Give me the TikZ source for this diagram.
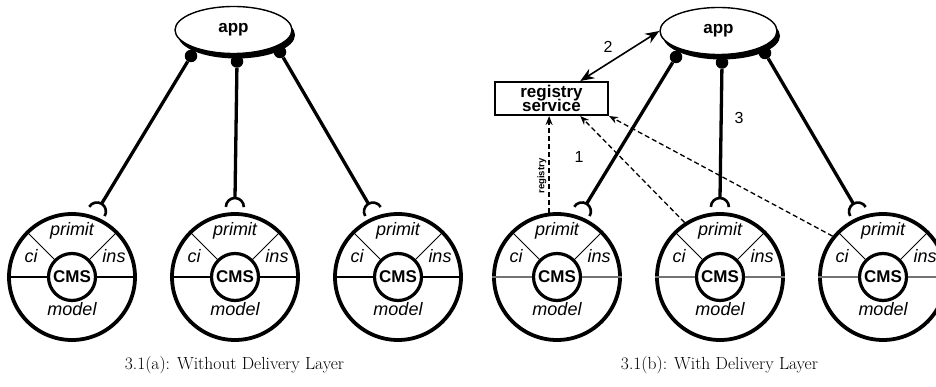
\documentclass[tikz,border=0pt]{standalone}
\usepackage{fontspec}
\newfontfamily\helv{Liberation Sans}
\usetikzlibrary{shapes.geometric, arrows.meta, calc, shadows}

\tikzstyle{appnode} = [ellipse, draw=black, line width=1.4pt, fill=white, minimum width=117pt, minimum height=47pt, font=\helv\bfseries\fontsize{17}{20}\selectfont, drop shadow={fill=black, opacity=1, shadow xshift=3pt, shadow yshift=-5pt}]
\tikzstyle{ball} = [circle, fill=black, inner sep=0pt, minimum size=12.5pt]
\tikzstyle{cmsouter} = [circle, draw=black, line width=3.8pt, minimum size=126pt, inner sep=0pt]
\tikzstyle{cmsinner} = [circle, draw=black, line width=3.2pt, fill=white, minimum size=47pt, inner sep=0pt, font=\helv\bfseries\fontsize{17}{20}\selectfont]
\tikzstyle{part} = [font=\helv\itshape\fontsize{18}{20}\selectfont]
\tikzstyle{divider} = [line width=2.6pt]
\tikzstyle{spoke} = [line width=0.8pt]
\tikzstyle{wire} = [line width=3.3pt]
\tikzstyle{cup} = [line width=2.6pt]
\tikzstyle{regbox} = [rectangle, draw=black, line width=2pt, minimum width=113pt, minimum height=33pt, align=center, inner sep=0pt, font=\helv\bfseries\fontsize{17}{13}\selectfont]
\tikzstyle{lookup} = [line width=1.3pt, dash pattern=on 5pt off 3pt, -{Stealth[length=9pt, width=7pt]}]
\tikzstyle{twoway} = [line width=1.6pt, {Stealth[length=14pt, width=11pt]}-{Stealth[length=14pt, width=11pt]}]
\tikzstyle{stepnum} = [font=\helv\fontsize{16}{18}\selectfont]
\tikzstyle{reglabel} = [rotate=90, font=\helv\bfseries\fontsize{9.5}{11}\selectfont]
\tikzstyle{captext} = [font=\fontsize{17.5}{20}\selectfont]

% one CMS component: name, centre, colour of the divider, angle of its socket
\newcommand{\cmsunit}[4]{%
  \node[cmsouter] (#1) at #2 {};
  \node[cmsinner] (#1c) at #2 {CMS};
  \draw[divider, #3] (#1c.west) -- (#1.west);
  \draw[divider, #3] (#1c.east) -- (#1.east);
  \draw[spoke] (#1c.135) -- (#1.135);
  \draw[spoke] (#1c.45) -- (#1.45);
  \node[part] (#1pr) at ($#2+(0,-46)$) {primit};
  \node[part] (#1ci) at ($#2+(-41,-21)$) {ci};
  \node[part] (#1in) at ($#2+(42,-21)$) {ins};
  \node[part] (#1mo) at ($#2+(0,32)$) {model};
  \coordinate (#1s) at ($#2+(#4:79pt)$);
}

% ball of the app wired to the socket of a component
\newcommand{\drawsocket}[2]{%
  \draw[wire] (#1) -- (#2);
  \draw[cup] let \p1=($(#1)-(#2)$), \n1={atan2(\y1,\x1)} in
    ($(#2)+(\n1+180:9pt)+(\n1-90:9pt)$) arc[start angle=\n1-90, delta angle=180, radius=9pt];
}

\begin{document}
\begin{tikzpicture}[x=1pt, y=-1pt]
\useasboundingbox (0,0) rectangle (936,387);
\clip (0,0) rectangle (936,387);

% (a) without delivery layer
\cmsunit{cmsA1}{(72,277)}{black}{68}
\cmsunit{cmsA2}{(235,277)}{black}{90}
\cmsunit{cmsA3}{(398,277)}{black}{112}

\node (appA) [appnode] at (233.5,30) {app};
\node (baA1) [ball] at ($(appA)+(-42.5,26)$) {};
\node (baA2) [ball] at ($(appA)+(3.5,31.5)$) {};
\node (baA3) [ball] at ($(appA)+(46.5,22)$) {};

\drawsocket{baA1}{cmsA1s}
\drawsocket{baA2}{cmsA2s}
\drawsocket{baA3}{cmsA3s}

\node (capA) [captext] at (234.5,365) {3.1(a): Without Delivery Layer};

% (b) with delivery layer
\cmsunit{cmsB1}{(557,277)}{black!55}{68}
\cmsunit{cmsB2}{(720,277)}{black!55}{90}
\cmsunit{cmsB3}{(883,277)}{black!55}{112}

\node (appB) [appnode] at (718.5,31) {app};
\node (baB1) [ball] at ($(appB)+(-42.5,26)$) {};
\node (baB2) [ball] at ($(appB)+(3.5,31.5)$) {};
\node (baB3) [ball] at ($(appB)+(46.5,22)$) {};

\drawsocket{baB1}{cmsB1s}
\drawsocket{baB2}{cmsB2s}
\drawsocket{baB3}{cmsB3s}

\node (regsvc) [regbox] at (551.5,98.5) {registry\\[-3pt]service};

\draw [twoway] ($(regsvc.north)!0.5!(regsvc.north east)$) -- (appB.west);
\draw [lookup] (cmsB1.97) -- (cmsB1.97 |- regsvc.south);
\draw [lookup] (cmsB2.123) -- ($(regsvc.south)!0.5!(regsvc.south east)$);
\draw [lookup] (cmsB3.141) -- (regsvc.south east);

\node (reglbl) [reglabel] at (542,176) {registry};
\node (num1) [stepnum] at (579,157) {1};
\node (num2) [stepnum] at (608,47) {2};
\node (num3) [stepnum] at (739,118) {3};

\node (capB) [captext] at (719.5,365) {3.1(b): With Delivery Layer};

\end{tikzpicture}
\end{document}
